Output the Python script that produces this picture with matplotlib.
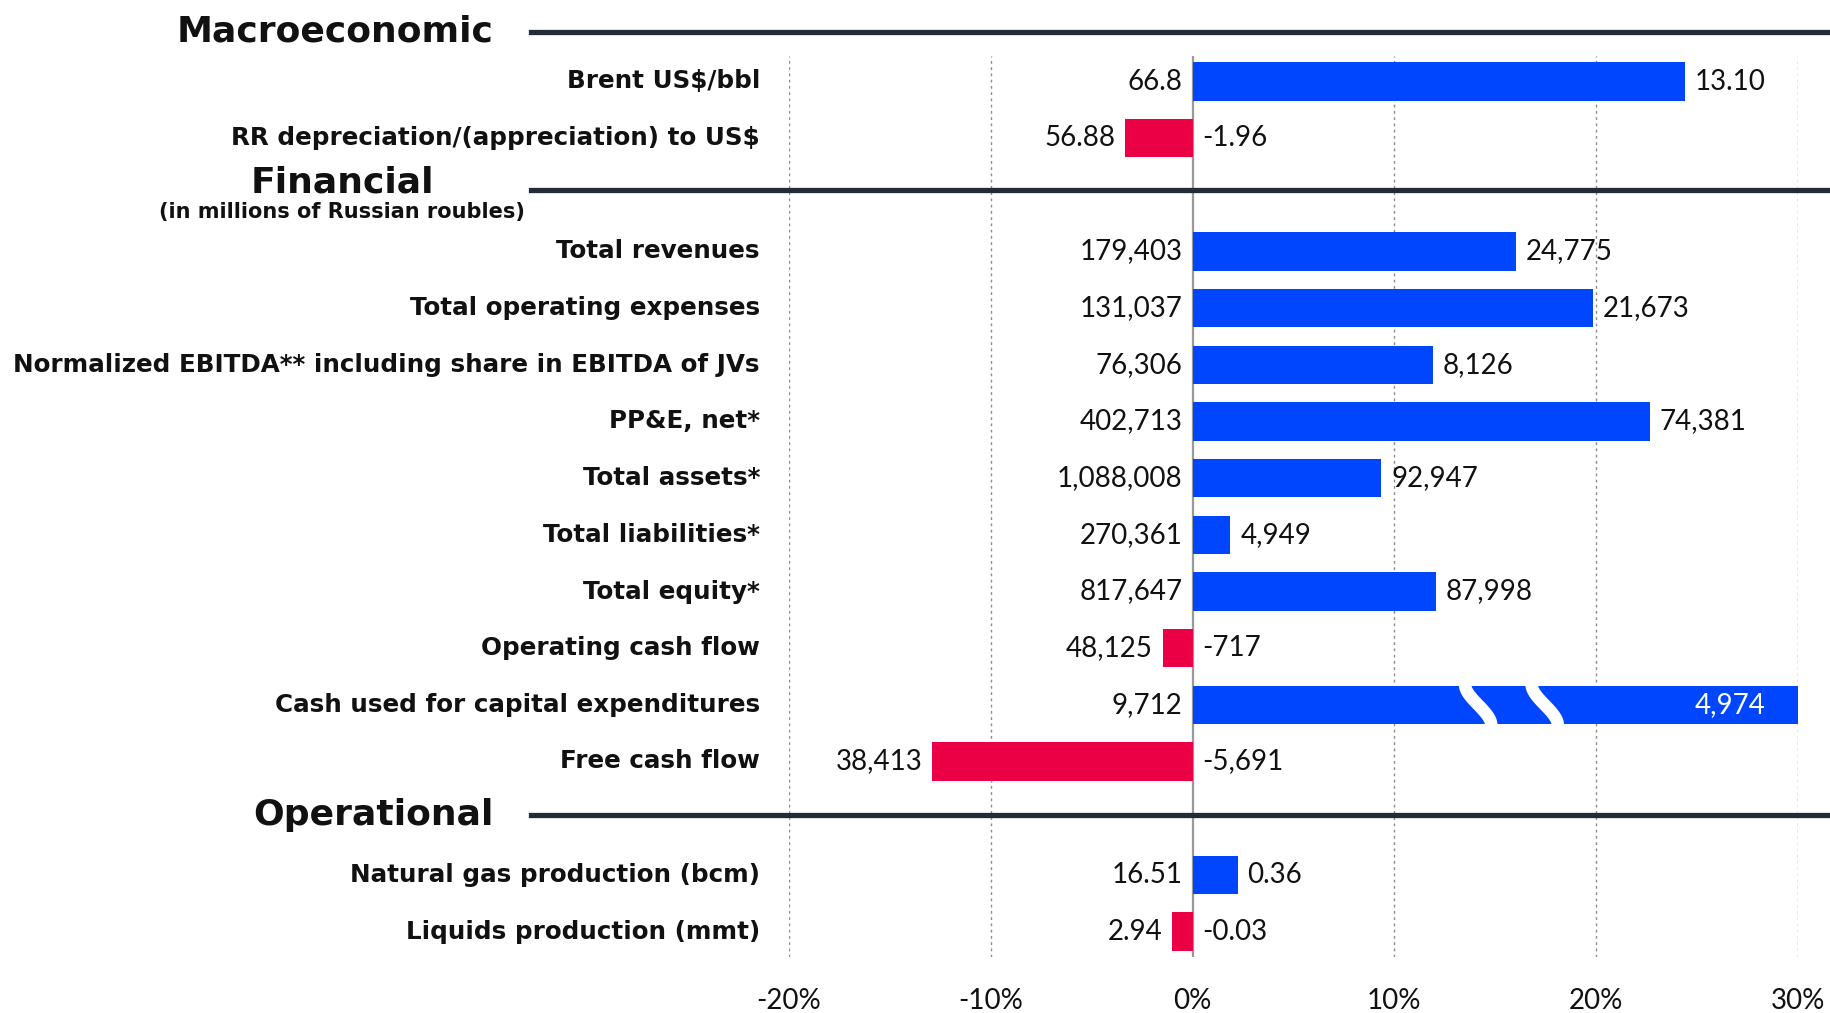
import matplotlib
matplotlib.use("Agg")
import matplotlib.pyplot as plt
import matplotlib.transforms as mtransforms
from matplotlib.lines import Line2D
import numpy as np

# ---------------- data ----------------
sections = ["Macroeconomic", "Financial", "Operational"]
section_subtitles = ["", "(in millions of Russian roubles)", ""]
section_sizes = [2, 10, 2]

categories = [
    "Brent US$/bbl",
    "RR depreciation/(appreciation) to US$",
    "Total revenues",
    "Total operating expenses",
    "Normalized EBITDA** including share in EBITDA of JVs",
    "PP&E, net*",
    "Total assets*",
    "Total liabilities*",
    "Total equity*",
    "Operating cash flow",
    "Cash used for capital expenditures",
    "Free cash flow",
    "Natural gas production (bcm)",
    "Liquids production (mmt)",
]
current_values = [66.8, 56.88, 179403, 131037, 76306, 402713, 1088008, 270361,
                  817647, 48125, 9712, 38413, 16.51, 2.94]
change_values = [13.10, -1.96, 24775, 21673, 8126, 74381, 92947, 4949,
                 87998, -717, 4974, -5691, 0.36, -0.03]
current_labels = ["66.8", "56.88", "179,403", "131,037", "76,306", "402,713",
                  "1,088,008", "270,361", "817,647", "48,125", "9,712", "38,413",
                  "16.51", "2.94"]
change_labels = ["13.10", "-1.96", "24,775", "21,673", "8,126", "74,381",
                 "92,947", "4,949", "87,998", "-717", "4,974", "-5,691",
                 "0.36", "-0.03"]
xticks = [-0.20, -0.10, 0.0, 0.10, 0.20, 0.30]
xtick_labels = ["-20%", "-10%", "0%", "10%", "20%", "30%"]

# ---------------- style ----------------
BLUE = "#0046ff"
RED = "#eb0045"
DARK = "#232b36"
LABEL_FONT = ["DejaVu Sans"]
NUM_FONT = ["Lato", "DejaVu Sans"]
NUM_SIZE = 20
XMIN, XMAX = -0.20, 0.30

cur = np.array(current_values, dtype=float)
chg = np.array(change_values, dtype=float)
pct = chg / (cur - chg)

# row positions with a blank slot between sections
ypos = []
section_first = []
r = 0
for i, n in enumerate(section_sizes):
    if i > 0:
        r += 1
    section_first.append(r)
    for k in range(n):
        ypos.append(r)
        r += 1
ypos = np.array(ypos, dtype=float)

fig = plt.figure(figsize=(18.31, 10.13), dpi=100)
ax = fig.add_axes([789 / 1831, 1 - 957 / 1013, (1798 - 789) / 1831, (957 - 56) / 1013])
ax.set_xlim(XMIN, XMAX)
ax.set_ylim(ypos.max() + 0.45, -0.45)

for s in ax.spines.values():
    s.set_visible(False)
ax.set_yticks([])
ax.set_xticks(xticks)
ax.set_xticklabels(xtick_labels, fontfamily=NUM_FONT, fontsize=NUM_SIZE, color="#111111")
ax.tick_params(axis="x", length=0, pad=22)
for xt in xticks:
    if xt == 0:
        ax.axvline(0, color="#9a9a9a", lw=1.6, zorder=1)
    else:
        ax.axvline(xt, color="#8c8c8c", lw=1.0, ls=(0, (2, 2.5)), zorder=0)

bar_h = 0.68
pct_draw = np.clip(pct, XMIN, XMAX)
colors = [BLUE if p >= 0 else RED for p in pct]
ax.barh(ypos, pct_draw, height=bar_h, color=colors, zorder=2)

off = 10 * 72 / 100
for i, y in enumerate(ypos):
    p = pct_draw[i]
    left_x = min(p, 0)
    right_x = max(p, 0)
    ax.annotate(current_labels[i], (left_x, y), xytext=(-off, 0), textcoords="offset points",
                ha="right", va="center", fontsize=NUM_SIZE, fontfamily=NUM_FONT,
                color="#111111")
    if pct[i] > XMAX:
        ax.annotate(change_labels[i], (right_x, y), xytext=(-3.2 * off, 0), textcoords="offset points",
                    ha="right", va="center", fontsize=NUM_SIZE, fontfamily=NUM_FONT,
                    color="white", zorder=5)
        # axis break marks
        t = np.linspace(0, 1, 60)
        sm = t * t * (3 - 2 * t)
        for xb in (0.135, 0.168):
            xs = xb + 0.013 * sm
            ys = (y - bar_h / 2 - 0.02) + (bar_h + 0.04) * t
            ax.plot(xs, ys, color="white", lw=9, solid_capstyle="butt", zorder=4)
    else:
        ax.annotate(change_labels[i], (right_x, y), xytext=(off, 0), textcoords="offset points",
                    ha="left", va="center", fontsize=NUM_SIZE, fontfamily=NUM_FONT,
                    color="#111111")

# category labels
lab_tr = mtransforms.blended_transform_factory(fig.transFigure, ax.transData)
for i, y in enumerate(ypos):
    ax.text(760 / 1831, y, categories[i], transform=lab_tr, ha="right", va="center",
            fontsize=17.7, fontweight="bold", fontfamily=LABEL_FONT, color="#111111")

# section headers and separator lines
header_rows = [-0.88, section_first[1] - 1.08, section_first[2] - 1.06]
for i, name in enumerate(sections):
    hy = header_rows[i]
    ln = Line2D([531 / 1831, 1.0], [hy, hy], transform=lab_tr, color=DARK, lw=3.8,
                clip_on=False, zorder=6)
    ax.add_line(ln)
    if section_subtitles[i]:
        ax.text(342 / 1831, hy - 0.13, name, transform=lab_tr, ha="center", va="center",
                fontsize=26, fontweight="bold", fontfamily=LABEL_FONT, color="#111111")
        ax.text(342 / 1831, hy + 0.38, section_subtitles[i], transform=lab_tr, ha="center",
                va="center", fontsize=15, fontweight="bold", fontfamily=LABEL_FONT, color="#111111")
    else:
        ax.text(494 / 1831, hy, name, transform=lab_tr, ha="right", va="center",
                fontsize=26, fontweight="bold", fontfamily=LABEL_FONT, color="#111111")

fig.savefig("out.png", dpi=100, facecolor="white")
